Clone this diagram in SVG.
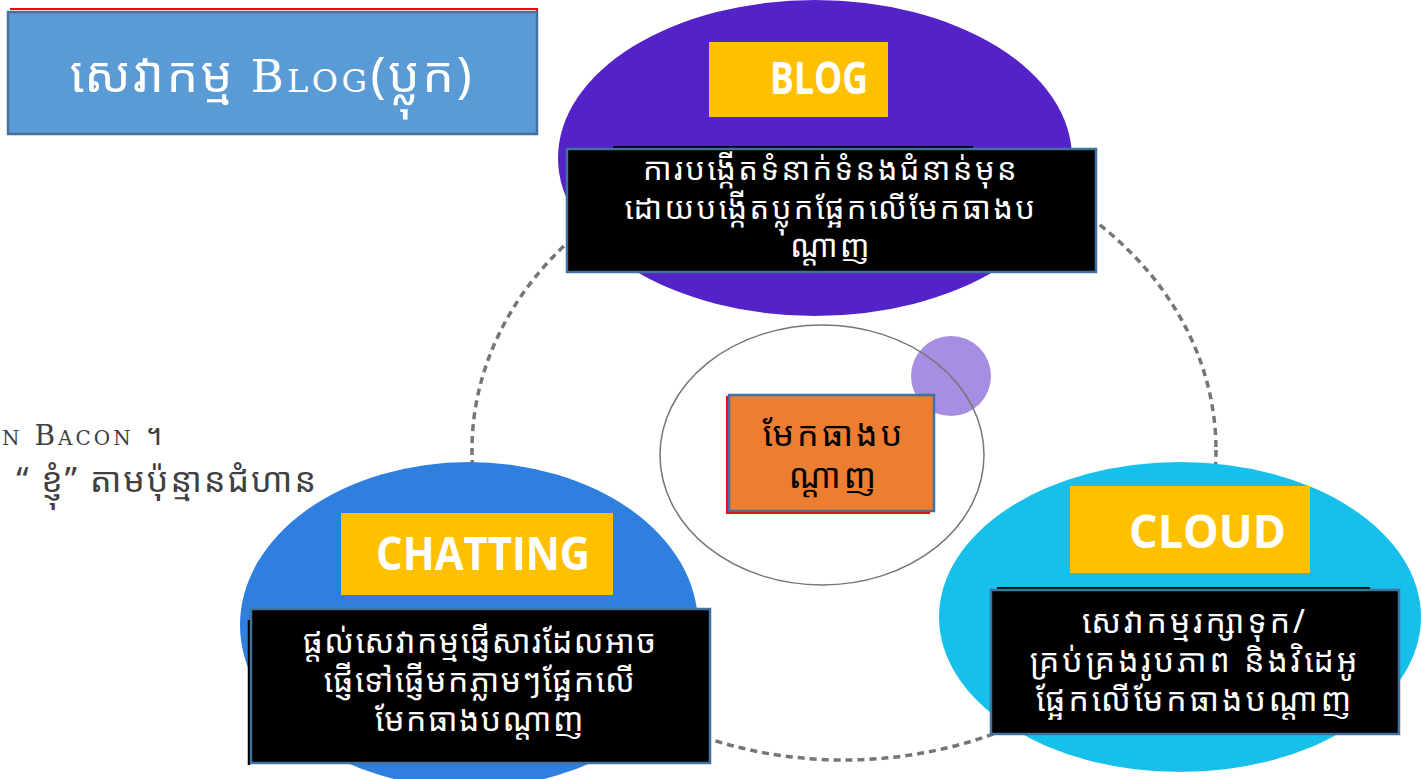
<svg xmlns="http://www.w3.org/2000/svg" width="1421" height="779" viewBox="0 0 1421 779">
<style>
.km{font-family:"Noto Sans Khmer","Khmer OS","Noto Sans","DejaVu Sans",sans-serif}
.lab{font-family:"Open Sans","Noto Sans","Liberation Sans",sans-serif;font-weight:bold;fill:#fff}
.blk{fill:#000;stroke:#41719C;stroke-width:2.5}
.ylw{fill:#FFC000}
.wt{fill:#fff}
.cap{font-family:"DejaVu Serif","Liberation Serif",serif;font-variant:small-caps}
</style>
<rect width="1421" height="779" fill="#fff"/>
<g id="connectors">
<ellipse cx="844" cy="450" rx="372" ry="310" fill="none" stroke="#767676" stroke-width="3.5" stroke-dasharray="7 5"/>
</g>
<g id="title">
<path d="M10 9 H537 V118" fill="none" stroke="#FF0000" stroke-width="2"/>
<rect x="8" y="12" width="529" height="122" fill="#5B9BD5" stroke="#41719C" stroke-width="2.5"/>
<text x="272" y="92" text-anchor="middle" fill="#fff" font-size="50" letter-spacing="2.5" class="km">សេវាកម្ម <tspan class="cap" font-size="45" letter-spacing="3.5">Blog</tspan>(ប្លុក)</text>
</g>
<g id="left-text" fill="#404040">
<text x="165" y="445" text-anchor="end" class="cap" font-size="28" letter-spacing="3">n Bacon <tspan class="km">។</tspan></text>
<text x="318" y="492" text-anchor="end" font-size="34" letter-spacing="2" class="km">“ ខ្ញុំ” តាមប៉ុន្មានជំហាន</text>
</g>
<g id="blog">
<ellipse cx="815" cy="158" rx="257" ry="158" fill="#5323C8"/>
<rect x="709" y="42" width="179" height="75" class="ylw"/>
<text x="770" y="94" textLength="98" lengthAdjust="spacingAndGlyphs" font-size="45" class="lab">BLOG</text>
<line x1="613" y1="147" x2="973" y2="147" stroke="#000" stroke-width="2"/>
<rect x="567" y="149" width="529" height="123" class="blk"/>
<text class="km wt" font-size="31" letter-spacing="2.4" text-anchor="middle"><tspan x="831" y="180">ការបង្កើតទំនាក់ទំនងជំនាន់មុន</tspan><tspan x="831" y="219">ដោយបង្កើតប្លុកផ្អែកលើមែកធាងប</tspan><tspan x="831" y="257">ណ្តាញ</tspan></text>
</g>
<g id="chatting">
<ellipse cx="469" cy="625" rx="229" ry="163" fill="#2F80DE"/>
<rect x="341" y="513" width="272" height="82" class="ylw"/>
<text x="376" y="570" textLength="214" lengthAdjust="spacingAndGlyphs" font-size="46" class="lab">CHATTING</text>
<line x1="249" y1="620" x2="249" y2="765" stroke="#000" stroke-width="2.5"/>
<rect x="251" y="609" width="459" height="154" class="blk"/>
<text class="km wt" font-size="32" letter-spacing="1.5" text-anchor="middle"><tspan x="480" y="653">ផ្តល់សេវាកម្មផ្ញើសារដែលអាច</tspan><tspan x="480" y="692">ផ្ញើទៅផ្ញើមកភ្លាមៗផ្អែកលើ</tspan><tspan x="480" y="731">មែកធាងបណ្តាញ</tspan></text>
</g>
<g id="cloud">
<ellipse cx="1180" cy="617" rx="241" ry="155" fill="#17C0EB"/>
<rect x="1070" y="486" width="240" height="87" class="ylw"/>
<text x="1129" y="548" textLength="157" lengthAdjust="spacingAndGlyphs" font-size="46" class="lab">CLOUD</text>
<line x1="997" y1="588" x2="1370" y2="588" stroke="#000" stroke-width="2"/>
<rect x="991" y="590" width="408" height="144" class="blk"/>
<text class="km wt" font-size="32" letter-spacing="3" text-anchor="middle"><tspan x="1195" y="633">សេវាកម្មរក្សាទុក/</tspan><tspan x="1195" y="672">គ្រប់គ្រងរូបភាព និងវិដេអូ</tspan><tspan x="1195" y="711">ផ្អែកលើមែកធាងបណ្តាញ</tspan></text>
</g>
<g id="center">
<circle cx="951" cy="376" r="40" fill="#A68FE2"/>
<ellipse cx="822" cy="455" rx="162" ry="130" fill="none" stroke="#767676" stroke-width="1.5"/>
<path d="M727 396 V513 H930" fill="none" stroke="#FF0000" stroke-width="2"/>
<rect x="729" y="395" width="205" height="116" fill="#ED7D31" stroke="#41719C" stroke-width="2.5"/>
<text class="km" font-size="34" letter-spacing="3" fill="#000" text-anchor="middle"><tspan x="834" y="446">មែកធាងប</tspan><tspan x="834" y="488">ណ្តាញ</tspan></text>
</g>
</svg>
